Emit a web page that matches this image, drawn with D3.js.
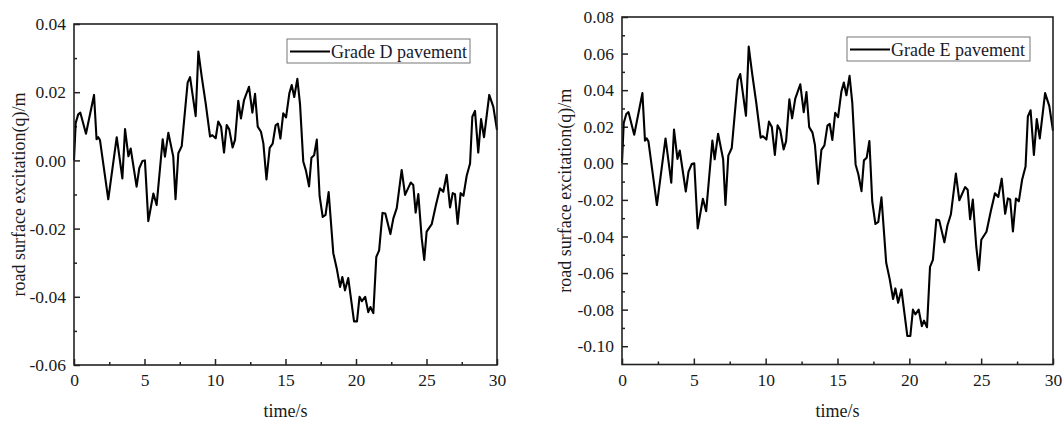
<!DOCTYPE html>
<html>
<head>
    <meta charset="utf-8">
    <style>
        body { margin: 0; background: #fff; }
        svg { display: block; font-family: 'Liberation Serif', 'Times New Roman', serif; }
        .axis .domain { display: none; }
        .axis .tick line { stroke: #222; stroke-width: 1.5; }
        .axis .tick text { font-size: 17.5px; fill: #1a1a1a; }
        .frame { fill: none; stroke: #222; stroke-width: 1.6; }
        .label { font-size: 18px; fill: #1a1a1a; }
        .legend-box { fill: #fff; stroke: #777; stroke-width: 1; }
        .legend-text { font-size: 18px; fill: #1a1a2a; }
        .series { fill: none; stroke: #000; stroke-width: 2.1; stroke-linejoin: round; }
    </style>
</head>
<body>
    <svg width="1064" height="421"></svg>

<script src="https://d3js.org/d3.v7.min.js"></script>
<script>
    // time axis shared by both records (s)
    let time = [0, 0.12, 0.3, 0.45, 0.85, 1.42, 1.6, 1.72, 1.84, 2.43,
        3.03, 3.43, 3.62, 3.86, 4.02, 4.44, 4.63, 4.85, 5.03, 5.27,
        5.63, 5.86, 6.29, 6.45, 6.69, 7.04, 7.2, 7.4, 7.64, 8.06,
        8.23, 8.63, 8.82, 9.06, 9.34, 9.65, 9.81, 10.05, 10.23, 10.43,
        10.64, 10.83, 11.01, 11.25, 11.42, 11.65, 11.84, 12.06, 12.41, 12.65,
        12.84, 13.03, 13.26, 13.43, 13.65, 13.88, 14.09, 14.3, 14.46, 14.64,
        14.84, 15.04, 15.27, 15.44, 15.62, 15.84, 16.03, 16.26, 16.45, 16.67,
        16.84, 17.03, 17.22, 17.42, 17.64, 17.84, 18.06, 18.39, 18.63, 18.87,
        19.03, 19.22, 19.45, 19.86, 20.07, 20.25, 20.42, 20.65, 20.87, 21.02,
        21.23, 21.44, 21.64, 21.88, 22.08, 22.44, 22.65, 22.89, 23.24, 23.48,
        23.88, 24.06, 24.23, 24.42, 24.66, 24.84, 25.01, 25.37, 25.67, 25.96,
        26.19, 26.43, 26.67, 26.86, 27.02, 27.21, 27.42, 27.62, 27.85, 28.09,
        28.25, 28.44, 28.67, 28.87, 29.08, 29.45, 29.74, 30];

    // Grade D pavement (m)
    let gradeD = [0.000, 0.011, 0.0135, 0.014, 0.0078, 0.0192, 0.0062, 0.0068, 0.0060, -0.0114,
        0.0068, -0.0053, 0.0092, 0.0012, 0.0035, -0.0077, -0.0023, -0.0002, 0.000, -0.0178,
        -0.0097, -0.0131, 0.0062, 0.0011, 0.0081, 0.0011, -0.0114, 0.0021, 0.0042, 0.0228,
        0.0244, 0.013, 0.0319, 0.0245, 0.0167, 0.007, 0.0074, 0.0065, 0.0114, 0.0099,
        0.0023, 0.0104, 0.0091, 0.0038, 0.006, 0.0175, 0.0123, 0.0177, 0.0216, 0.014,
        0.0195, 0.0099, 0.0084, 0.005, -0.0056, 0.0037, 0.0049, 0.0103, 0.0108, 0.0064,
        0.0138, 0.0126, 0.0196, 0.0221, 0.0186, 0.0239, 0.0165, -0.0003, -0.003, -0.0076,
        0.0008, 0.0015, 0.0061, -0.0105, -0.0166, -0.016, -0.0093, -0.0272, -0.0316, -0.0371,
        -0.0342, -0.0381, -0.0345, -0.0472, -0.0472, -0.040, -0.0413, -0.040, -0.0445, -0.043,
        -0.0448, -0.0283, -0.0264, -0.0154, -0.0156, -0.0216, -0.017, -0.014, -0.0028, -0.0101,
        -0.0065, -0.0072, -0.0153, -0.0099, -0.0228, -0.0292, -0.0209, -0.0187, -0.0131, -0.0082,
        -0.0092, -0.0042, -0.0138, -0.0096, -0.0099, -0.0186, -0.0096, -0.0104, -0.0045, -0.0009,
        0.0128, 0.0145, 0.0023, 0.0121, 0.0068, 0.0192, 0.0157, 0.0089];

    // Grade E pavement (m)
    let gradeE = [0.000, 0.022, 0.027, 0.028, 0.0156, 0.0384, 0.0124, 0.0136, 0.012, -0.0228,
        0.0136, -0.0106, 0.0184, 0.0024, 0.007, -0.0154, -0.0046, -0.0004, 0.000, -0.0356,
        -0.0194, -0.0262, 0.0124, 0.0022, 0.0162, 0.0022, -0.0228, 0.0042, 0.0084, 0.0456,
        0.0488, 0.026, 0.0638, 0.049, 0.0334, 0.014, 0.0148, 0.013, 0.0228, 0.0198,
        0.0046, 0.0208, 0.0182, 0.0076, 0.012, 0.035, 0.0246, 0.0354, 0.0432, 0.028,
        0.039, 0.0198, 0.0168, 0.010, -0.0112, 0.0074, 0.0098, 0.0206, 0.0216, 0.0128,
        0.0276, 0.0252, 0.0392, 0.0442, 0.0372, 0.0478, 0.033, -0.0006, -0.006, -0.0152,
        0.0016, 0.003, 0.0122, -0.021, -0.0332, -0.032, -0.0186, -0.0544, -0.0632, -0.0742,
        -0.0684, -0.0762, -0.069, -0.0944, -0.0944, -0.080, -0.0826, -0.080, -0.089, -0.086,
        -0.0896, -0.0566, -0.0528, -0.0308, -0.0312, -0.0432, -0.034, -0.028, -0.0056, -0.0202,
        -0.013, -0.0144, -0.0306, -0.0198, -0.0456, -0.0584, -0.0418, -0.0374, -0.0262, -0.0164,
        -0.0184, -0.0084, -0.0276, -0.0192, -0.0198, -0.0372, -0.0192, -0.0208, -0.009, -0.0018,
        0.0256, 0.029, 0.0046, 0.0242, 0.0136, 0.0384, 0.0314, 0.0178];

    let xTicks = [0, 5, 10, 15, 20, 25, 30];
    let xMinorTicks = [2.5, 7.5, 12.5, 17.5, 22.5, 27.5];
    let yTicksD = [-0.06, -0.04, -0.02, 0, 0.02, 0.04];
    let yMinorD = [-0.05, -0.03, -0.01, 0.01, 0.03];
    let yTicksE = [-0.10, -0.08, -0.06, -0.04, -0.02, 0, 0.02, 0.04, 0.06, 0.08];
    let yMinorE = [-0.09, -0.07, -0.05, -0.03, -0.01, 0.01, 0.03, 0.05, 0.07];

    let svg = d3.select("svg");

    let panels = [
        {
            name: "Grade D pavement", values: gradeD, yDomain: [-0.06, 0.04],
            yTicks: yTicksD, yMinor: yMinorD,
            left: 74, right: 497, top: 24, bottom: 365,
            labelX: 25, legend: { x: 287, y: 39, w: 183, h: 24 }
        },
        {
            name: "Grade E pavement", values: gradeE, yDomain: [-0.11, 0.08],
            yTicks: yTicksE, yMinor: yMinorE,
            left: 622, right: 1053, top: 17, bottom: 364.5,
            labelX: 571, legend: { x: 847, y: 37, w: 183, h: 24 }
        }
    ];

    const serif = "'Liberation Serif', 'Times New Roman', serif";

    panels.forEach(function (p) {
        let g = svg.append("g");

        let x = d3.scaleLinear().domain([0, 30]).range([p.left, p.right]);
        let y = d3.scaleLinear().domain(p.yDomain).range([p.bottom, p.top]);

        // ticks point inward
        g.append("g")
            .attr("class", "axis")
            .attr("transform", `translate(0,${p.bottom})`)
            .call(d3.axisBottom(x).tickValues(xTicks).tickSize(-6).tickPadding(9)
                .tickFormat(d => d))
            .attr("font-family", serif);

        g.append("g")
            .attr("class", "axis")
            .attr("transform", `translate(0,${p.bottom})`)
            .call(d3.axisBottom(x).tickValues(xMinorTicks).tickSize(-3).tickFormat(""));

        g.append("g")
            .attr("class", "axis")
            .attr("transform", `translate(${p.left},0)`)
            .call(d3.axisLeft(y).tickValues(p.yTicks).tickSize(-6).tickPadding(8)
                .tickFormat(d => d.toFixed(2)))
            .attr("font-family", serif);

        g.append("g")
            .attr("class", "axis")
            .attr("transform", `translate(${p.left},0)`)
            .call(d3.axisLeft(y).tickValues(p.yMinor).tickSize(-3).tickFormat(""));

        let line = d3.line()
            .x((d, i) => x(time[i]))
            .y(d => y(d));

        g.append("path")
            .datum(p.values)
            .attr("class", "series")
            .attr("d", line);

        g.append("rect")
            .attr("class", "frame")
            .attr("x", p.left)
            .attr("y", p.top)
            .attr("width", p.right - p.left)
            .attr("height", p.bottom - p.top);

        // legend
        let lg = g.append("g");
        lg.append("rect")
            .attr("class", "legend-box")
            .attr("x", p.legend.x)
            .attr("y", p.legend.y)
            .attr("width", p.legend.w)
            .attr("height", p.legend.h);
        lg.append("line")
            .attr("x1", p.legend.x + 3)
            .attr("x2", p.legend.x + 43)
            .attr("y1", p.legend.y + 12.5)
            .attr("y2", p.legend.y + 12.5)
            .style("stroke", "#000")
            .style("stroke-width", 2.1);
        lg.append("text")
            .attr("class", "legend-text")
            .attr("x", p.legend.x + 44)
            .attr("y", p.legend.y + 19)
            .text(p.name);

        // axis titles
        g.append("text")
            .attr("class", "label")
            .attr("text-anchor", "middle")
            .attr("x", (p.left + p.right) / 2)
            .attr("y", 417)
            .text("time/s");

        g.append("text")
            .attr("class", "label")
            .attr("text-anchor", "middle")
            .attr("transform", `translate(${p.labelX},${(p.top + p.bottom) / 2}) rotate(-90)`)
            .text("road surface excitation(q)/m");
    });
</script>
</body>
</html>
